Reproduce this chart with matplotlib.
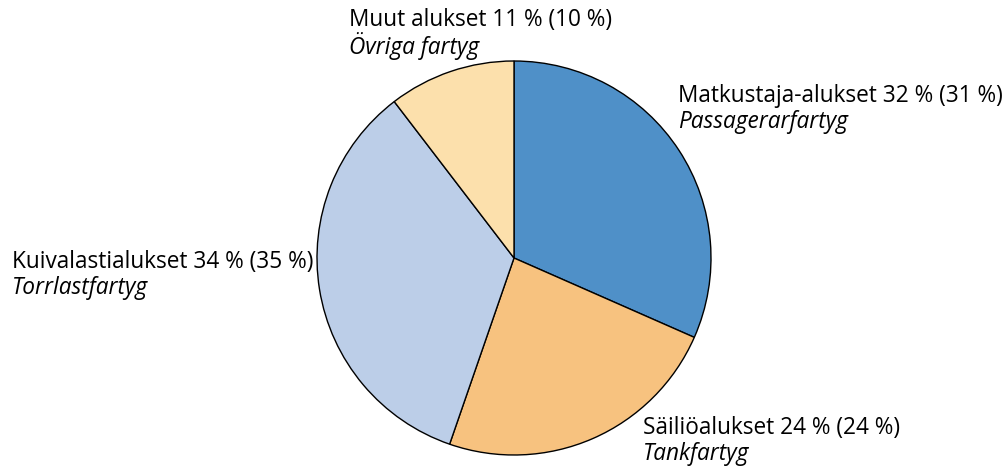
import matplotlib.pyplot as plt

# Share of vessel types (pie slice sizes)
labels_fi = ['Matkustaja-alukset 32 % (31 %)', 'Säiliöalukset 24 % (24 %)',
             'Kuivalastialukset 34 % (35 %)', 'Muut alukset 11 % (10 %)']
labels_sv = ['Passagerarfartyg', 'Tankfartyg', 'Torrlastfartyg', 'Övriga fartyg']
shares = [31.6, 23.7, 34.3, 10.4]
colors = ['#4f90c8', '#f7c27f', '#bccee8', '#fce0ac']

W, H = 1004, 467
fig = plt.figure(figsize=(W / 100, H / 100), dpi=100)
ax = fig.add_axes([0, 0, 1, 1])
ax.set_xlim(0, W)
ax.set_ylim(0, H)
ax.set_aspect('equal')
ax.axis('off')

ax.pie(shares, colors=colors, startangle=90, counterclock=False,
       center=(514, H - 258), radius=197,
       wedgeprops=dict(edgecolor='black', linewidth=1.0))
ax.set_xlim(0, W)
ax.set_ylim(0, H)

# label anchor points (left x, first line y) in pixels from top
label_pos = [(678, 96), (643, 428), (12, 262), (349, 20)]
font = 'Open Sans'
for (x, y), fi, sv in zip(label_pos, labels_fi, labels_sv):
    ax.text(x, H - y, fi, fontsize=16.3, family=font, va='center', ha='left')
    ax.text(x, H - y - 26, sv, fontsize=16.3, family=font, style='italic',
            va='center', ha='left')

fig.savefig('out.png', dpi=100)
